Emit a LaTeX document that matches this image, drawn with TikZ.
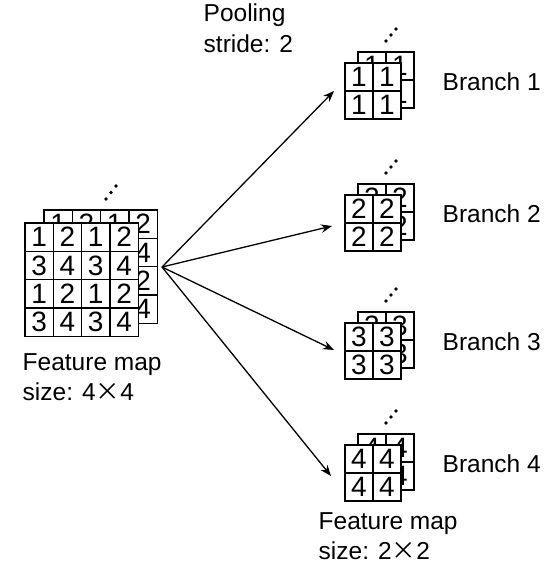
\documentclass[tikz,border=0pt]{standalone}
\usepackage{fontspec}
\setmainfont{Liberation Sans}
\newfontfamily\cjk{Noto Sans CJK SC}
\usetikzlibrary{arrows.meta}
\begin{document}
\begin{tikzpicture}[x=1pt,y=-1pt,line width=1.4pt,
  cell/.style={draw,fill=white,minimum size=28.3pt,inner sep=0pt,text depth=-2pt,font=\fontsize{28}{28}\selectfont},
  scell/.style={cell,minimum size=28pt},
  lbl/.style={inner sep=0pt,align=left,anchor=west,font=\fontsize{24.5}{30.5}\selectfont},
  dot/.style={circle,fill,inner sep=0pt,minimum size=3.6pt},
  arr/.style={-{Stealth[length=11pt,width=8.5pt]},line width=1.3pt}]
\useasboundingbox (0,0) rectangle (547,571);
% input feature map: back copy, front copy
\foreach \r in {0,...,3}
  \foreach \c in {0,...,3} {
    \pgfmathtruncatemacro\v{1+mod(\c,2)+2*mod(\r,2)}
    \node[cell] (bk\r\c) at (44+14.15+28.3*\c,210+14.15+28.3*\r) {\v};
  }
\foreach \r in {0,...,3}
  \foreach \c in {0,...,3} {
    \pgfmathtruncatemacro\v{1+mod(\c,2)+2*mod(\r,2)}
    \node[cell] (fr\r\c) at (25+14.15+28.3*\c,223+14.15+28.3*\r) {\v};
  }
\node[dot] (dA1) at (106,199) {};
\node[dot] (dA2) at (111,192.5) {};
\node[dot] (dA3) at (116,186) {};
% branch outputs
\foreach \b/\t in {1/63,2/195,3/323,4/445} {
  \foreach \r in {0,1}
    \foreach \c in {0,1}
      \node[scell] (s\b bk\r\c) at (358+14+28*\c,\t-11+14+28*\r) {\b};
  \foreach \r in {0,1}
    \foreach \c in {0,1}
      \node[scell] (s\b fr\r\c) at (345+14+28*\c,\t+14+28*\r) {\b};
  \node[dot] (d\b a) at (386,\t-22) {};
  \node[dot] (d\b b) at (391,\t-28) {};
  \node[dot] (d\b c) at (396,\t-34) {};
  \node[lbl] (br\b) at (442,\t+19) {Branch \b};
}
% pooling arrows
\coordinate (src) at (162,267);
\coordinate (t1) at (334,91);
\coordinate (t2) at (332,226);
\coordinate (t3) at (334,350);
\coordinate (t4) at (331,476);
\draw[arr] (src) -- (t1);
\draw[arr] (src) -- (t2);
\draw[arr] (src) -- (t3);
\draw[arr] (src) -- (t4);
% texts
\node[lbl] (pool) at (203,28) {Pooling\\stride: 2};
\node[lbl] (fmin) at (22,377) {Feature map\\size: 4{\cjk ×}4};
\node[lbl] (fmout) at (318,536) {Feature map\\size: 2{\cjk ×}2};
\end{tikzpicture}
\end{document}
